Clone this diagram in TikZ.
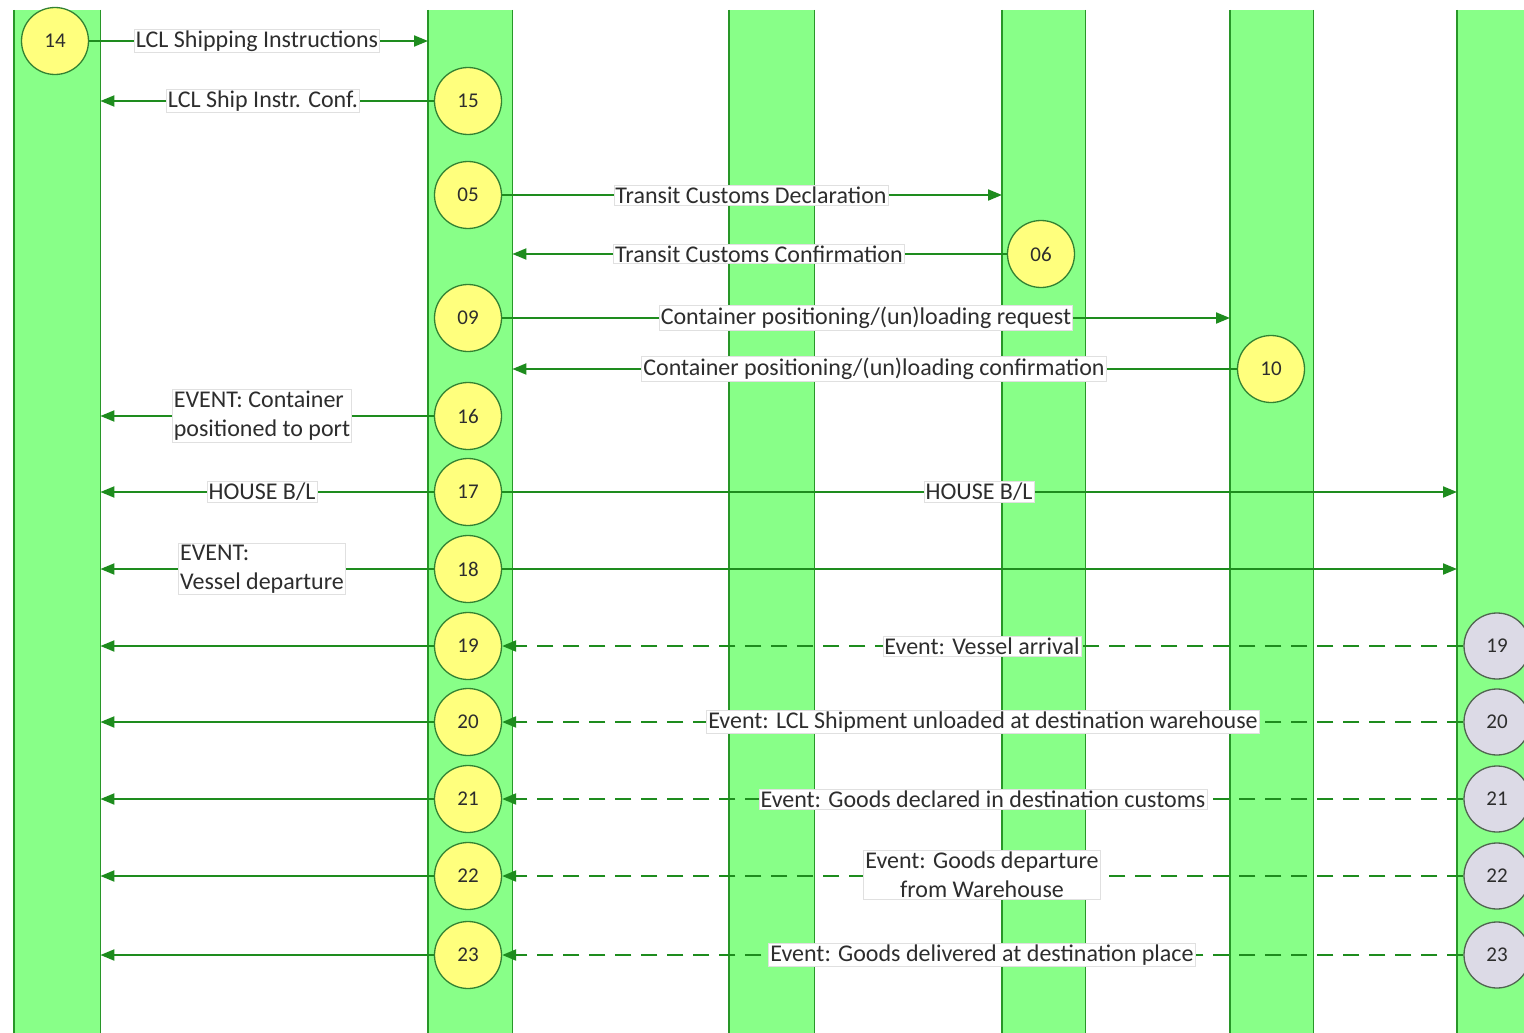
\documentclass[tikz,border=0pt]{standalone}
\usepackage{fontspec}
\setmainfont{Carlito}
\usetikzlibrary{arrows.meta}
\definecolor{lanefill}{RGB}{136,255,136}
\definecolor{laneedge}{RGB}{40,150,40}
\definecolor{circfill}{RGB}{255,255,125}
\definecolor{circedge}{RGB}{50,130,50}
\definecolor{greyfill}{RGB}{220,218,230}
\definecolor{greyedge}{RGB}{80,100,80}
\definecolor{msgcol}{RGB}{30,140,30}
\definecolor{txtcol}{RGB}{45,45,45}
\begin{document}
\begin{tikzpicture}[x=1pt,y=-1pt,
  lanebox/.style={fill=lanefill,draw=none,minimum height=1030pt,anchor=north west,inner sep=0pt},
  laneside/.style={draw=laneedge,line width=1.6pt},
  yc/.style={circle,fill=circfill,draw=circedge,line width=1.3pt,minimum size=67pt,inner sep=0pt,font=\fontsize{21}{25}\selectfont,text=txtcol},
  gc/.style={circle,fill=greyfill,draw=greyedge,line width=1.3pt,minimum size=66pt,inner sep=0pt,font=\fontsize{21}{25}\selectfont,text=txtcol},
  msg/.style={draw=msgcol,line width=2pt,-{Triangle[length=14pt,width=11pt]}},
  dmsg/.style={msg,dash pattern=on 16pt off 10pt},
  lbl/.style={fill=white,draw=black!12,line width=0.8pt,inner sep=1.5pt,font=\fontsize{24}{29}\selectfont,text=txtcol},
]
\useasboundingbox (0,0) rectangle (1524,1033);
\clip (0,0) rectangle (1524,1033);
\fill[white] (0,0) rectangle (1524,1033);
% lanes
\node[lanebox,minimum width=86pt] (L1) at (14,10) {};
\node[lanebox,minimum width=84pt] (L2) at (428,10) {};
\node[lanebox,minimum width=85pt] (L3) at (729,10) {};
\node[lanebox,minimum width=83pt] (L4) at (1002,10) {};
\node[lanebox,minimum width=83pt] (L5) at (1230,10) {};
\node[lanebox,minimum width=80pt] (L6) at (1457,10) {};
\foreach \l in {L1,L2,L3,L4,L5}{
  \draw[laneside] (\l.north west) -- (\l.south west);
  \draw[laneside] (\l.north east) -- (\l.south east);
}
\draw[laneside] (L6.north west) -- (L6.south west);
% circles
\node[yc] (c14) at (55,41) {14};
\node[yc] (c15) at (468,101) {15};
\node[yc] (c05) at (468,195) {05};
\node[yc] (c06) at (1041,254) {06};
\node[yc] (c09) at (468,318) {09};
\node[yc] (c10) at (1271,369) {10};
\node[yc] (c16) at (468,416) {16};
\node[yc] (c17) at (468,492) {17};
\node[yc] (c18) at (468,569) {18};
\node[yc] (c19) at (468,646) {19};
\node[yc] (c20) at (468,722) {20};
\node[yc] (c21) at (468,799) {21};
\node[yc] (c22) at (468,876) {22};
\node[yc] (c23) at (468,955) {23};
\node[gc] (g19) at (1497,646) {19};
\node[gc] (g20) at (1497,722) {20};
\node[gc] (g21) at (1497,799) {21};
\node[gc] (g22) at (1497,876) {22};
\node[gc] (g23) at (1497,955) {23};
% messages
\draw[msg] (c14) -- (c14 -| L2.west);
\draw[msg] (c15) -- (c15 -| L1.east);
\draw[msg] (c05) -- (c05 -| L4.west);
\draw[msg] (c06) -- (c06 -| L2.east);
\draw[msg] (c09) -- (c09 -| L5.west);
\draw[msg] (c10) -- (c10 -| L2.east);
\draw[msg] (c16) -- (c16 -| L1.east);
\draw[msg] (c17) -- (c17 -| L1.east);
\draw[msg] (c17) -- (c17 -| L6.west);
\draw[msg] (c18) -- (c18 -| L1.east);
\draw[msg] (c18) -- (c18 -| L6.west);
\draw[msg] (c19) -- (c19 -| L1.east);
\draw[msg] (c20) -- (c20 -| L1.east);
\draw[msg] (c21) -- (c21 -| L1.east);
\draw[msg] (c22) -- (c22 -| L1.east);
\draw[msg] (c23) -- (c23 -| L1.east);
\draw[dmsg] (g19) -- (c19);
\draw[dmsg] (g20) -- (c20);
\draw[dmsg] (g21) -- (c21);
\draw[dmsg] (g22) -- (c22);
\draw[dmsg] (g23) -- (c23);
% labels
\node[lbl] (t14) at (257,41) {LCL Shipping Instructions};
\node[lbl] (t15) at (263,101) {LCL Ship Instr. Conf.};
\node[lbl] (t05) at (751,195) {Transit Customs Declaration};
\node[lbl] (t06) at (759,254) {Transit Customs Confirmation};
\node[lbl] (t09) at (866,318) {Container positioning/(un)loading request};
\node[lbl] (t10) at (874,369) {Container positioning/(un)loading confirmation};
\node[lbl,align=left] (t16) at (262,416) {EVENT: Container\\positioned to port};
\node[lbl] (t17a) at (262,492) {HOUSE B/L};
\node[lbl] (t17b) at (979,492) {HOUSE B/L};
\node[lbl,align=left] (t18) at (262,569) {EVENT:\\Vessel departure};
\node[lbl] (t19) at (982,646) {Event: Vessel arrival};
\node[lbl] (t20) at (983,722) {Event: LCL Shipment unloaded at destination warehouse};
\node[lbl] (t21) at (983,799) {Event: Goods declared in destination customs};
\node[lbl,align=center] (t22) at (982,875) {Event: Goods departure\\from Warehouse};
\node[lbl] (t23) at (982,955) {Event: Goods delivered at destination place};
\end{tikzpicture}
\end{document}
